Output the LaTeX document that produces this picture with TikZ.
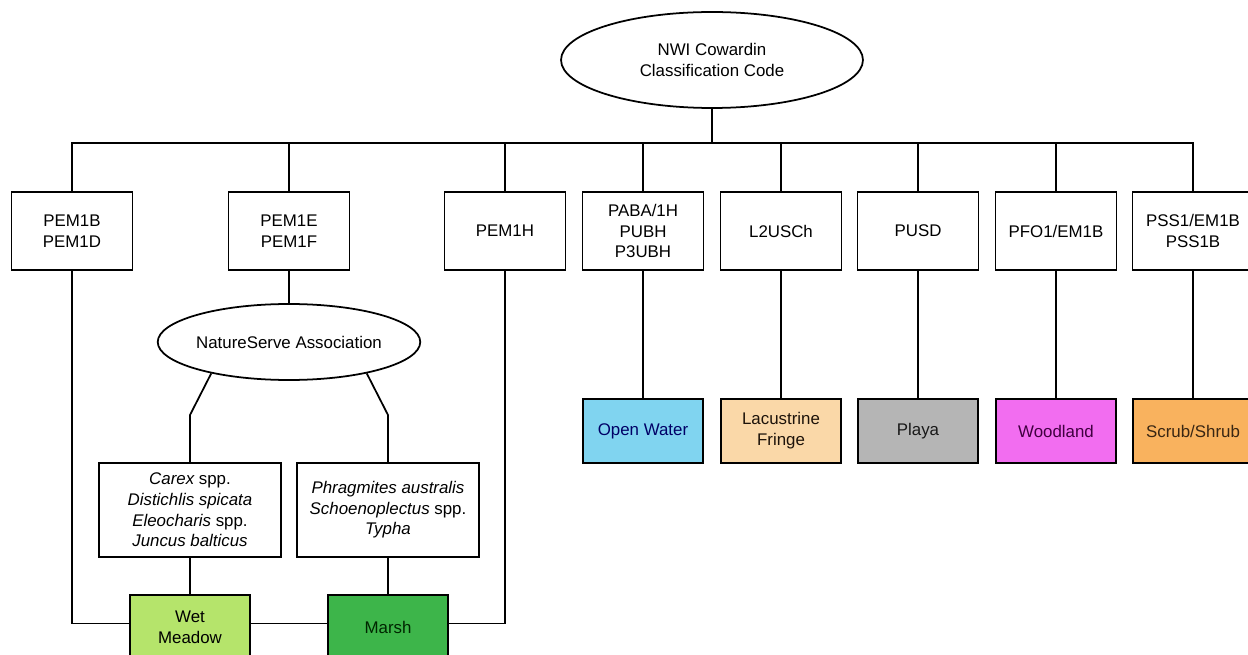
\documentclass[tikz,border=0pt]{standalone}
\usepackage{fontspec}
\setmainfont{Liberation Sans}
\usepackage{tikz}
\usetikzlibrary{shapes.geometric}

\definecolor{water}{HTML}{80D4F0}
\definecolor{fringe}{HTML}{FAD8A8}
\definecolor{playa}{HTML}{B5B5B5}
\definecolor{wood}{HTML}{F26DF0}
\definecolor{scrub}{HTML}{F9B25E}
\definecolor{meadow}{HTML}{B5E46B}
\definecolor{marsh}{HTML}{3DB54A}

\begin{document}
\begin{tikzpicture}[x=0.02cm, y=-0.02cm, line width=1pt,
        every node/.style={font={\fontsize{9.6}{11.8}\selectfont}, align=center},
        codebox/.style={draw, minimum width=2.42cm, minimum height=1.56cm, inner sep=0pt},
        oval/.style={draw, ellipse, inner sep=0pt},
        habitat/.style={draw, minimum width=2.41cm, minimum height=1.28cm, inner sep=0pt},
        species/.style={draw, minimum width=3.64cm, minimum height=1.88cm, inner sep=0pt, font={\fontsize{9.6}{11.7}\selectfont\itshape}}]
        \useasboundingbox (0,0) rectangle (1248,655);

        % top of the tree
        \node[oval, minimum width=6.04cm, minimum height=1.92cm] (root) at (712, 60) {NWI Cowardin\\Classification Code};
        \coordinate (bus) at (712, 143);

        % Cowardin codes
        \node[codebox] (pemb) at (72, 231) {PEM1B\\PEM1D};
        \node[codebox] (peme) at (289, 231) {PEM1E\\PEM1F};
        \node[codebox] (pemh) at (505, 231) {PEM1H};
        \node[codebox] (paba) at (643, 231) {PABA/1H\\PUBH\\P3UBH};
        \node[codebox] (lus) at (781, 231) {L2USCh};
        \node[codebox] (pusd) at (918, 231) {PUSD};
        \node[codebox] (pfo) at (1056, 231) {PFO1/EM1B};
        \node[codebox] (pss) at (1193, 231) {PSS1/EM1B\\PSS1B};

        \draw (root.south) -- (bus);
        \foreach \n in {pemb, peme, pemh, paba, lus, pusd, pfo, pss}
            \draw (\n.north) |- (bus);

        % NatureServe branch
        \node[oval, minimum width=4.74cm, minimum height=1.52cm] (ns) at (289, 342) {NatureServe Association};
        \node[species] (spa) at (190, 510) {Carex {\upshape spp.}\\Distichlis spicata\\Eleocharis {\upshape spp.}\\Juncus balticus};
        \node[species] (spb) at (388, 510) {Phragmites australis\\Schoenoplectus {\upshape spp.}\\Typha};
        \coordinate (bend) at (0, 415);

        \draw (peme.south) -- (ns.north);
        \draw (ns.202) -- (spa.north |- bend) -- (spa.north);
        \draw (ns.338) -- (spb.north |- bend) -- (spb.north);

        % habitat classes
        \node[habitat, fill=meadow] (wet) at (190, 627) {Wet\\Meadow};
        \node[habitat, fill=marsh, text=black!85!green] (mar) at (388, 627) {Marsh};
        \node[habitat, fill=water, text=blue!40!black] (ow) at (643, 431) {Open Water};
        \node[habitat, fill=fringe, text=black!85!brown] (lf) at (781, 431) {Lacustrine\\Fringe};
        \node[habitat, fill=playa, text=black!90] (pl) at (918, 431) {Playa};
        \node[habitat, fill=wood, text=violet!50!black] (wd) at (1056, 431) {Woodland};
        \node[habitat, fill=scrub, text=brown!30!black] (ss) at (1193, 431) {Scrub/Shrub};

        \draw (spa.south) -- (wet.north);
        \draw (spb.south) -- (mar.north);
        \draw (pemb.south) |- ([yshift=2pt]wet.west);
        \draw ([yshift=2pt]wet.east) -- ([yshift=2pt]mar.west);
        \draw (pemh.south) |- ([yshift=2pt]mar.east);
        \draw (paba.south) -- (ow.north);
        \draw (lus.south) -- (lf.north);
        \draw (pusd.south) -- (pl.north);
        \draw (pfo.south) -- (wd.north);
        \draw (pss.south) -- (ss.north);
    \end{tikzpicture}
\end{document}
